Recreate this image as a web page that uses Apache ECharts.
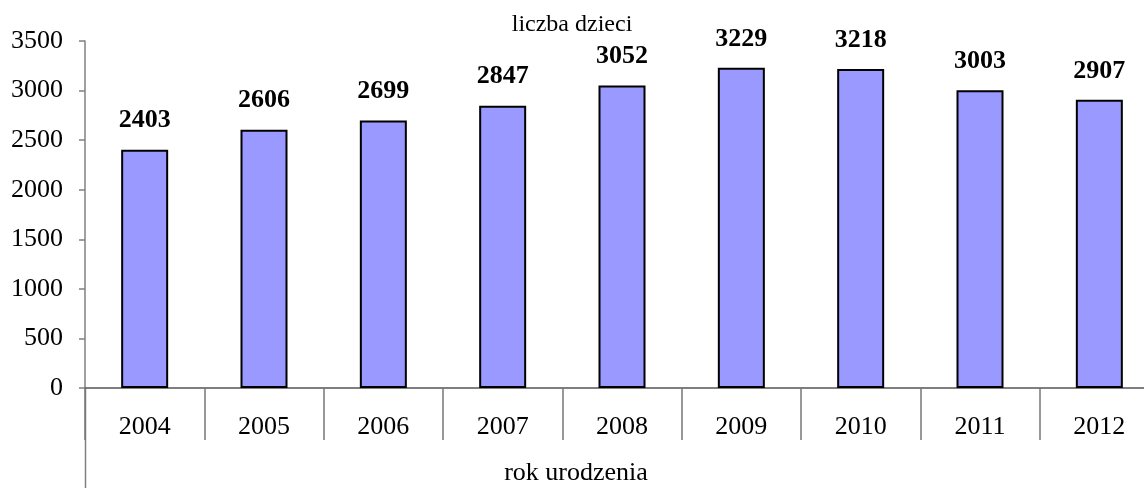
<!DOCTYPE html>
<html>
<head>
<meta charset="utf-8">
<script src="https://cdn.jsdelivr.net/npm/echarts@6/dist/echarts.min.js"></script>
<style>
  html, body { margin: 0; padding: 0; background: #fff; }
  #chart { width: 1144px; height: 488px; }
</style>
</head>
<body>
<div id="chart"></div>
<script>
var years = ['2004', '2005', '2006', '2007', '2008', '2009', '2010', '2011', '2012'];
var children = [2403, 2606, 2699, 2847, 3052, 3229, 3218, 3003, 2907];
var yTicks = [0, 500, 1000, 1500, 2000, 2500, 3000, 3500];

var serif = '"Liberation Serif", "Times New Roman", serif';

var chartDom = document.getElementById('chart');
var chart = echarts.init(chartDom);

var option = {
    animation: false,
    backgroundColor: '#fff',
    title: {
        text: 'liczba dzieci',
        left: 'center',
        top: 8,
        textStyle: { fontFamily: serif, fontSize: 24, fontWeight: 'normal', color: '#000' }
    },
    // the last category runs off the right edge, as in the source picture
    grid: { left: 85, top: 41, bottom: 100, right: -15, outerBoundsMode: 'none' },
    xAxis: {
        type: 'category',
        data: years,
        name: 'rok urodzenia',
        nameLocation: 'middle',
        nameGap: 72,
        nameTextStyle: { fontFamily: serif, fontSize: 26, color: '#000', padding: [0, 92, 0, 0] },
        axisLine: { lineStyle: { color: '#555', width: 1.5 } },
        axisTick: { show: true, interval: 0, length: 52, lineStyle: { color: '#777', width: 1.5 } },
        axisLabel: { fontFamily: serif, fontSize: 26, color: '#000', margin: 26, interval: 0 }
    },
    yAxis: {
        type: 'value',
        min: yTicks[0],
        max: yTicks[yTicks.length - 1],
        interval: 500,
        splitLine: { show: false },
        axisLine: { show: true, lineStyle: { color: '#808080', width: 1.5 } },
        axisTick: { show: true, length: 6, lineStyle: { color: '#808080', width: 1.5 } },
        axisLabel: {
            fontFamily: serif, fontSize: 26, color: '#000', margin: 22,
            formatter: function (v) { return String(v); }
        }
    },
    series: [{
        type: 'bar',
        data: children,
        barWidth: 47,
        itemStyle: { color: '#9999FF', borderColor: '#000', borderWidth: 2 },
        label: {
            show: true,
            position: 'top',
            distance: 16,
            fontFamily: serif,
            fontSize: 26,
            fontWeight: 'bold',
            color: '#000'
        }
    }],
    // y axis line continues below the category labels
    graphic: [{
        type: 'line',
        shape: { x1: 85.5, y1: 388, x2: 85.5, y2: 488 },
        style: { stroke: '#808080', lineWidth: 1.5 }
    }]
};

chart.setOption(option);

const resizeObserver = new ResizeObserver(() => {
    chart.resize();
});
resizeObserver.observe(chartDom);
</script>
</body>
</html>
